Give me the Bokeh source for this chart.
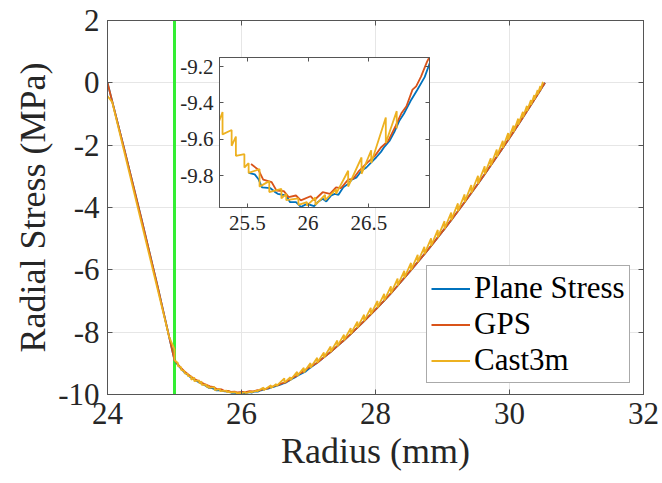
from bokeh.plotting import figure
from bokeh.models import (Span, Legend, LegendItem, FixedTicker, LinearAxis, Range1d,
                          CustomLabelingPolicy)
from bokeh.embed import file_html
from bokeh.resources import INLINE

# ---------------- data ----------------
x_ticks = [24, 26, 28, 30, 32]
x_tick_labels = ["24", "26", "28", "30", "32"]
y_ticks = [-10, -8, -6, -4, -2, 0, 2]
y_tick_labels = ["-10", "-8", "-6", "-4", "-2", "0", "2"]

inset_x_ticks = [25.5, 26.0, 26.5]
inset_x_tick_labels = ["25.5", "26", "26.5"]
inset_y_ticks = [-9.8, -9.6, -9.4, -9.2]
inset_y_tick_labels = ["-9.8", "-9.6", "-9.4", "-9.2"]

interface_radius = 25.0

# inner layer (24 - 25.44 mm)
radius_inner = [24.0, 24.25, 24.5, 24.75, 25.0, 25.05, 25.10, 25.15, 25.20, 25.25, 25.30, 25.37, 25.44]
ps_inner = [0.0, -2.12, -4.3, -6.55, -8.9, -9.05, -9.18, -9.29, -9.38, -9.46, -9.53, -9.61, -9.69]
gps_inner = [0.0, -2.12, -4.3, -6.55, -8.9, -9.03, -9.15, -9.26, -9.35, -9.43, -9.50, -9.585, -9.66]

# around the minimum (as seen in the inset)
radius_ps_mid = [25.51, 25.56, 25.59, 25.62, 25.69, 25.73, 25.75, 25.82, 25.85, 25.90, 25.94, 25.99,
                 26.05, 26.08, 26.12, 26.15, 26.19, 26.22, 26.25, 26.29, 26.33, 26.36, 26.40, 26.44,
                 26.48, 26.52, 26.56, 26.60, 26.63, 26.67, 26.71, 26.75, 26.79, 26.85, 26.90, 26.96, 27.00]
ps_mid = [-9.785, -9.793, -9.818, -9.864, -9.869, -9.891, -9.900, -9.909, -9.945, -9.945, -9.972, -9.955,
          -9.967, -9.945, -9.927, -9.942, -9.909, -9.900, -9.905, -9.864, -9.845, -9.822, -9.809, -9.773,
          -9.755, -9.727, -9.700, -9.669, -9.640, -9.609, -9.560, -9.500, -9.458, -9.382, -9.327, -9.258, -9.185]

radius_gps_mid = [25.53, 25.59, 25.63, 25.70, 25.74, 25.80, 25.84, 25.90, 25.94, 26.02, 26.05, 26.12,
                  26.18, 26.23, 26.27, 26.33, 26.37, 26.42, 26.49, 26.55, 26.60, 26.66, 26.72, 26.77,
                  26.81, 26.86, 26.89, 26.93, 26.98]
gps_mid = [-9.736, -9.767, -9.822, -9.836, -9.882, -9.885, -9.918, -9.909, -9.936, -9.913, -9.935, -9.891,
           -9.900, -9.864, -9.869, -9.822, -9.818, -9.773, -9.727, -9.691, -9.645, -9.609, -9.527, -9.455,
           -9.418, -9.327, -9.309, -9.255, -9.173]

# outer part (both analytical curves overlap)
radius_outer = [27.13, 27.23, 27.33, 27.43, 27.53, 27.63, 27.73, 27.83, 27.93, 28.03, 28.13, 28.23, 28.33,
                28.43, 28.53, 28.63, 28.73, 28.83, 28.93, 29.03, 29.13, 29.23, 29.33, 29.43, 29.53, 29.63,
                29.72, 29.81, 29.90, 29.98, 30.06, 30.13, 30.20, 30.26, 30.32, 30.37, 30.42, 30.46, 30.50, 30.53]
stress_outer = [-8.98, -8.81, -8.635, -8.45, -8.26, -8.06, -7.855, -7.645, -7.43, -7.21, -6.985, -6.755, -6.51,
                -6.26, -6.01, -5.755, -5.495, -5.23, -4.96, -4.685, -4.405, -4.12, -3.83, -3.535, -3.235, -2.93,
                -2.655, -2.375, -2.09, -1.835, -1.575, -1.345, -1.113, -0.913, -0.711, -0.542, -0.372, -0.235, -0.098, 0.0]

# Cast3m: lead-in points, then element-wise values (start of element, end of element)
cast_lead_radius = [24.0, 24.07, 24.92, 25.0]
cast_lead_stress = [-0.42, -0.62, -8.15, -8.55]
cast_nodes = [25.00, 25.05, 25.10, 25.15, 25.20, 25.25, 25.295, 25.37, 25.405, 25.475, 25.51, 25.60, 25.68,
              25.78, 25.82, 25.92, 25.99, 26.06, 26.14, 26.23, 26.33, 26.44, 26.52, 26.64, 26.73, 26.83,
              26.93, 27.03, 27.13, 27.23, 27.33, 27.43, 27.53, 27.63, 27.73, 27.83, 27.93, 28.03, 28.13,
              28.23, 28.33, 28.43, 28.53, 28.63, 28.73, 28.83, 28.93, 29.03, 29.13, 29.23, 29.33, 29.43,
              29.53, 29.63, 29.72, 29.81, 29.90, 29.98, 30.06, 30.13, 30.20, 30.26, 30.32, 30.37, 30.42,
              30.46, 30.50]
cast_start = [-8.90, -9.08, -9.21, -9.32, -9.41, -9.53, -9.573, -9.636, -9.691, -9.755, -9.785, -9.86,
              -9.89, -9.925, -9.935, -9.96, -9.965, -9.96, -9.935, -9.90, -9.86, -9.79, -9.73, -9.62,
              -9.54, -9.41, -9.29, -9.14, -8.98, -8.81, -8.635, -8.45, -8.26, -8.06, -7.855, -7.645,
              -7.43, -7.21, -6.985, -6.755, -6.51, -6.26, -6.01, -5.755, -5.495, -5.23, -4.96, -4.685,
              -4.405, -4.12, -3.83, -3.535, -3.235, -2.93, -2.655, -2.375, -2.09, -1.835, -1.575, -1.345,
              -1.113, -0.913, -0.711, -0.542, -0.372, -0.235]
cast_end = [-8.99, -9.13, -9.25, -9.34, -9.42, -9.45, -9.549, -9.585, -9.682, -9.731, -9.764, -9.83,
            -9.873, -9.90, -9.925, -9.945, -9.92, -9.905, -9.875, -9.773, -9.70, -9.66, -9.48, -9.445,
            -9.27, -9.14, -8.99, -8.82, -8.65, -8.46, -8.27, -8.08, -7.87, -7.66, -7.44, -7.22,
            -7.00, -6.77, -6.53, -6.28, -6.03, -5.78, -5.52, -5.26, -4.99, -4.72, -4.44, -4.16,
            -3.87, -3.58, -3.28, -2.98, -2.68, -2.42, -2.14, -1.86, -1.61, -1.37, -1.15, -0.93,
            -0.74, -0.55, -0.39, -0.23, -0.10, 0.03]
inset_cast_limits = [25.25, 26.73]

# ---------------- assemble series ----------------
ps_x = radius_inner + radius_ps_mid + radius_outer
ps_y = ps_inner + ps_mid + stress_outer
gps_x = radius_inner + radius_gps_mid + radius_outer
gps_y = gps_inner + gps_mid + stress_outer
cast_x = list(cast_lead_radius)
cast_y = list(cast_lead_stress)
for i in range(len(cast_start)):
    cast_x += [cast_nodes[i], cast_nodes[i + 1]]
    cast_y += [cast_start[i], cast_end[i]]

ins_ps_x = radius_ps_mid + radius_outer
ins_ps_y = ps_mid + stress_outer
ins_gps_x = radius_gps_mid + radius_outer
ins_gps_y = gps_mid + stress_outer
ins_cast = [(x, y) for x, y in zip(cast_x, cast_y) if inset_cast_limits[0] <= x <= inset_cast_limits[1]]
ins_cast_x = [c[0] for c in ins_cast]
ins_cast_y = [c[1] for c in ins_cast]

# ---------------- styling ----------------
FONT = "Liberation Serif"
AX = "#555555"
TXT = "#262626"
C_BLUE, C_RED, C_YEL = "#0072BD", "#D95319", "#EDB120"
LW = 1.8

p = figure(frame_width=536, frame_height=374, x_range=Range1d(24, 32), y_range=Range1d(-10, 2),
           output_backend="svg", toolbar_location=None,
           min_border_left=99, min_border_right=18, min_border_top=20, min_border_bottom=81,
           outline_line_color=AX, background_fill_color="white", border_fill_color="white")


def style_axis(ax, ticks, labels, size, show_labels=True):
    ax.ticker = FixedTicker(ticks=ticks)
    ax.major_label_overrides = {t: l for t, l in zip(ticks, labels)}
    ax.major_label_text_font = FONT
    ax.major_label_text_font_size = size
    ax.major_label_text_color = TXT
    ax.axis_line_color = AX
    ax.major_tick_line_color = AX
    ax.major_tick_in = 5
    ax.major_tick_out = 0
    ax.minor_tick_line_color = None
    if not show_labels:
        ax.major_label_text_font_size = "0px"
        ax.major_label_standoff = 0
        ax.major_label_policy = CustomLabelingPolicy(code="return new Set()")


style_axis(p.xaxis[0], x_ticks, x_tick_labels, "31px")
style_axis(p.yaxis[0], y_ticks, y_tick_labels, "31px")
p.xaxis[0].major_label_standoff = 8
p.yaxis[0].major_label_standoff = 8
for ax, lab in [(p.xaxis[0], "Radius (mm)"), (p.yaxis[0], "Radial Stress (MPa)")]:
    ax.axis_label = lab
    ax.axis_label_text_font = FONT
    ax.axis_label_text_font_size = "36px"
    ax.axis_label_text_font_style = "normal"
    ax.axis_label_text_color = TXT
p.xaxis[0].axis_label_standoff = 4
p.yaxis[0].axis_label_standoff = 2

right_ax = LinearAxis()
style_axis(right_ax, y_ticks, y_tick_labels, "31px", show_labels=False)
p.add_layout(right_ax, "right")
top_ax = LinearAxis()
style_axis(top_ax, x_ticks, x_tick_labels, "31px", show_labels=False)
p.add_layout(top_ax, "above")

p.xgrid.ticker = FixedTicker(ticks=x_ticks)
p.ygrid.ticker = FixedTicker(ticks=y_ticks)
p.xgrid.grid_line_color = "#e6e6e6"
p.ygrid.grid_line_color = "#e6e6e6"

green = Span(location=interface_radius, dimension="height", line_color="#33EE33", line_width=3,
             level="underlay")
p.add_layout(green)

r_ps = p.line(ps_x, ps_y, line_color=C_BLUE, line_width=LW)
r_gps = p.line(gps_x, gps_y, line_color=C_RED, line_width=LW)
r_cast = p.line(cast_x, cast_y, line_color=C_YEL, line_width=LW)

legend = Legend(items=[LegendItem(label="Plane Stress", renderers=[r_ps]),
                       LegendItem(label="GPS", renderers=[r_gps]),
                       LegendItem(label="Cast3m", renderers=[r_cast])],
                location=(319, 11), label_text_font=FONT, label_text_font_size="31px",
                label_text_color="black", glyph_width=39, glyph_height=35, label_height=35,
                label_standoff=4, padding=4, spacing=0, margin=0,
                border_line_color=AX, border_line_width=1,
                background_fill_color="white", background_fill_alpha=1.0)
p.add_layout(legend)

# ---------------- inset ----------------
inset = figure(frame_width=210, frame_height=150, x_range=Range1d(25.27, 27.0),
               y_range=Range1d(-9.975, -9.15),
               output_backend="svg", toolbar_location=None,
               min_border_left=45, min_border_right=5, min_border_top=5, min_border_bottom=35,
               outline_line_color=AX, background_fill_color="white", border_fill_alpha=0.0)
style_axis(inset.xaxis[0], inset_x_ticks, inset_x_tick_labels, "21px")
style_axis(inset.yaxis[0], inset_y_ticks, inset_y_tick_labels, "21px")
inset.xaxis[0].major_label_standoff = 8
inset.yaxis[0].major_label_standoff = 6
for ax in (inset.xaxis[0], inset.yaxis[0]):
    ax.major_tick_in = 4
i_right = LinearAxis()
style_axis(i_right, inset_y_ticks, inset_y_tick_labels, "21px", show_labels=False)
i_right.major_tick_in = 4
inset.add_layout(i_right, "right")
i_top = LinearAxis()
style_axis(i_top, inset_x_ticks, inset_x_tick_labels, "21px", show_labels=False)
i_top.major_tick_in = 4
inset.add_layout(i_top, "above")
inset.xgrid.visible = False
inset.ygrid.visible = False

inset.line(ins_ps_x, ins_ps_y, line_color=C_BLUE, line_width=LW)
inset.line(ins_gps_x, ins_gps_y, line_color=C_RED, line_width=LW)
inset.line(ins_cast_x, ins_cast_y, line_color=C_YEL, line_width=LW)

TEMPLATE = """
{% block contents %}
<div style="position:absolute; left:8px; top:8px; width:646px; height:467px;">
  <div style="position:absolute; left:0px; top:-8px;">{{ embed(roots[0]) }}</div>
  <div style="position:absolute; left:166px; top:44px;">{{ embed(roots[1]) }}</div>
</div>
{% endblock %}
"""

open("out.html", "w").write(file_html([p, inset], INLINE, title="Radial stress", template=TEMPLATE))
